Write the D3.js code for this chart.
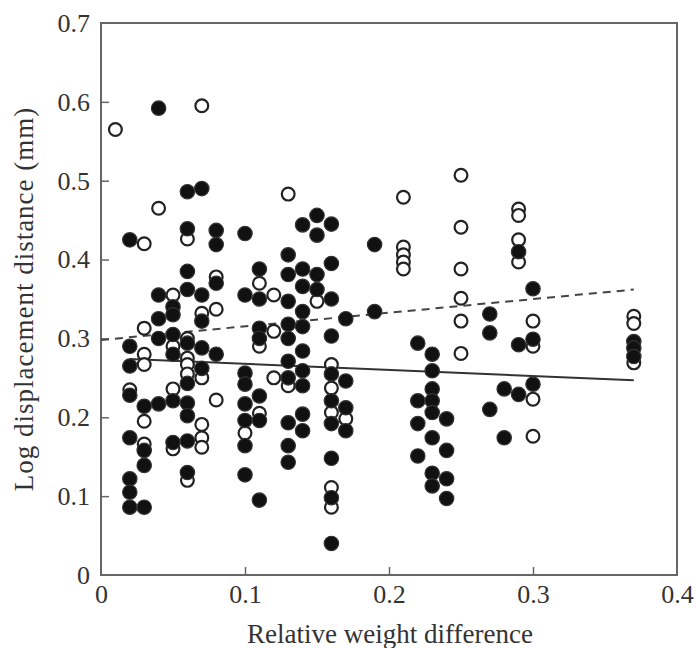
<!DOCTYPE html>
<html>
<head>
<meta charset="utf-8">
<script src="https://cdn.jsdelivr.net/npm/d3@7"></script>
<style>
  body { margin: 0; background: #fff; }
  svg text { font-family: "Liberation Serif", "DejaVu Serif", serif; fill: #333; }
</style>
</head>
<body>
<svg id="chart" width="696" height="648"></svg>
<script>
// filled circles, one list of y values per x column
var filledX = [0.02, 0.03, 0.04, 0.05, 0.06, 0.07, 0.08, 0.10, 0.11, 0.13, 0.14, 0.15, 0.16, 0.17, 0.19, 0.22, 0.23, 0.24, 0.27, 0.28, 0.29, 0.30, 0.37];
var filledY = [
  [0.425, 0.29, 0.265, 0.228, 0.174, 0.122, 0.105, 0.086],
  [0.214, 0.158, 0.139, 0.086],
  [0.592, 0.355, 0.325, 0.3, 0.217],
  [0.34, 0.33, 0.305, 0.28, 0.221, 0.168],
  [0.486, 0.439, 0.385, 0.362, 0.294, 0.243, 0.218, 0.202, 0.17, 0.13],
  [0.49, 0.355, 0.322, 0.288, 0.262],
  [0.437, 0.419, 0.37, 0.28],
  [0.433, 0.355, 0.256, 0.242, 0.217, 0.196, 0.164, 0.127],
  [0.388, 0.35, 0.313, 0.30, 0.227, 0.196, 0.095],
  [0.406, 0.381, 0.347, 0.318, 0.30, 0.271, 0.25, 0.193, 0.164, 0.143],
  [0.444, 0.388, 0.366, 0.334, 0.315, 0.284, 0.259, 0.24, 0.204, 0.183],
  [0.456, 0.431, 0.381, 0.362],
  [0.445, 0.395, 0.35, 0.303, 0.255, 0.221, 0.192, 0.148, 0.098, 0.04],
  [0.325, 0.246, 0.212, 0.183],
  [0.419, 0.334],
  [0.294, 0.221, 0.192, 0.151],
  [0.28, 0.259, 0.236, 0.221, 0.206, 0.174, 0.129, 0.113],
  [0.198, 0.158, 0.122, 0.097],
  [0.331, 0.307, 0.21],
  [0.236, 0.174],
  [0.41, 0.292, 0.229],
  [0.363, 0.299, 0.242],
  [0.296, 0.288, 0.277]
];

// open circles
var openX = [0.01, 0.02, 0.03, 0.04, 0.05, 0.06, 0.07, 0.08, 0.10, 0.11, 0.12, 0.13, 0.15, 0.16, 0.17, 0.21, 0.25, 0.29, 0.30, 0.37];
var openY = [
  [0.565],
  [0.235],
  [0.42, 0.313, 0.28, 0.267, 0.195, 0.166],
  [0.465],
  [0.355, 0.29, 0.236, 0.16],
  [0.426, 0.3, 0.275, 0.267, 0.255, 0.12],
  [0.595, 0.332, 0.25, 0.191, 0.174, 0.162],
  [0.378, 0.337, 0.222],
  [0.18],
  [0.37, 0.29, 0.205],
  [0.355, 0.309, 0.25],
  [0.483, 0.24],
  [0.347],
  [0.267, 0.237, 0.206, 0.111, 0.086],
  [0.198],
  [0.479, 0.416, 0.406, 0.397, 0.388],
  [0.507, 0.441, 0.388, 0.351, 0.322, 0.281],
  [0.464, 0.456, 0.425, 0.397],
  [0.322, 0.29, 0.223, 0.176],
  [0.328, 0.319, 0.269]
];

// fitted lines, end points
var solidLine = [[0.02, 0.274], [0.37, 0.247]];
var dashedLine = [[0.0, 0.298], [0.37, 0.362]];

var xTicks = [0, 0.1, 0.2, 0.3, 0.4];
var yTicks = [0, 0.1, 0.2, 0.3, 0.4, 0.5, 0.6, 0.7];

function flatten(xs, ys) {
  var out = [];
  xs.forEach(function (x, i) {
    ys[i].forEach(function (y) { out.push({x: x, y: y}); });
  });
  return out;
}

var filled = flatten(filledX, filledY);
var open = flatten(openX, openY);

var svg = d3.select("#chart");
var margin = {top: 23, left: 101, right: 19, bottom: 73};
var W = 696, H = 648;

var x = d3.scaleLinear().domain([0, 0.4]).range([margin.left, W - margin.right]);
var y = d3.scaleLinear().domain([0, 0.7]).range([H - margin.bottom, margin.top]);

var frameColor = "#666";
var fmt = function (d) { return d === 0 ? "0" : d3.format(".1f")(d); };

// frame
svg.append("rect")
  .attr("x", x(0)).attr("y", y(0.7))
  .attr("width", x(0.4) - x(0)).attr("height", y(0) - y(0.7))
  .attr("fill", "none").attr("stroke", frameColor).attr("stroke-width", 2);

// axes with inward ticks
var xAxis = svg.append("g")
  .attr("transform", "translate(0," + y(0) + ")")
  .call(d3.axisBottom(x).tickValues(xTicks).tickSize(-8).tickPadding(10).tickFormat(fmt));

var yAxis = svg.append("g")
  .attr("transform", "translate(" + x(0) + ",0)")
  .call(d3.axisLeft(y).tickValues(yTicks).tickSize(-8).tickPadding(11).tickFormat(fmt));

[xAxis, yAxis].forEach(function (g) {
  g.select(".domain").remove();
  g.selectAll(".tick line").attr("stroke", frameColor).attr("stroke-width", 1.5);
  g.selectAll(".tick text")
    .style("font-family", "'Liberation Serif', serif")
    .attr("font-size", 26).attr("fill", "#3a3a3a");
});
// tick marks at the frame ends coincide with the frame
xAxis.selectAll(".tick").filter(function (d) { return d === 0 || d === 0.4; }).select("line").remove();
yAxis.selectAll(".tick").filter(function (d) { return d === 0 || d === 0.7; }).select("line").remove();

// regression lines
var line = d3.line().x(function (d) { return x(d[0]); }).y(function (d) { return y(d[1]); });

svg.append("path").datum(solidLine)
  .attr("d", line).attr("fill", "none")
  .attr("stroke", "#333").attr("stroke-width", 2);

svg.append("path").datum(dashedLine)
  .attr("d", line).attr("fill", "none")
  .attr("stroke", "#444").attr("stroke-width", 2)
  .attr("stroke-dasharray", "8,6");

// points: open first, filled on top
svg.append("g").selectAll("circle")
  .data(open).enter().append("circle")
  .attr("cx", function (d) { return x(d.x); })
  .attr("cy", function (d) { return y(d.y); })
  .attr("r", 6.4)
  .attr("fill", "#fff").attr("stroke", "#222").attr("stroke-width", 2.2);

svg.append("g").selectAll("circle")
  .data(filled).enter().append("circle")
  .attr("cx", function (d) { return x(d.x); })
  .attr("cy", function (d) { return y(d.y); })
  .attr("r", 7.2)
  .attr("fill", "#111").attr("stroke", "#333").attr("stroke-width", 1.2);

// axis titles
svg.append("text")
  .attr("x", (x(0) + x(0.4)) / 2 + 1)
  .attr("y", 643)
  .attr("text-anchor", "middle")
  .attr("font-size", 27)
  .attr("fill", "#3a3a3a")
  .text("Relative weight difference");

svg.append("text")
  .attr("transform", "translate(33," + (y(0) + y(0.7)) / 2 + ") rotate(-90)")
  .attr("text-anchor", "middle")
  .attr("font-size", 27)
  .attr("letter-spacing", 1)
  .attr("fill", "#3a3a3a")
  .text("Log displacement distance (mm)");
</script>
</body>
</html>
